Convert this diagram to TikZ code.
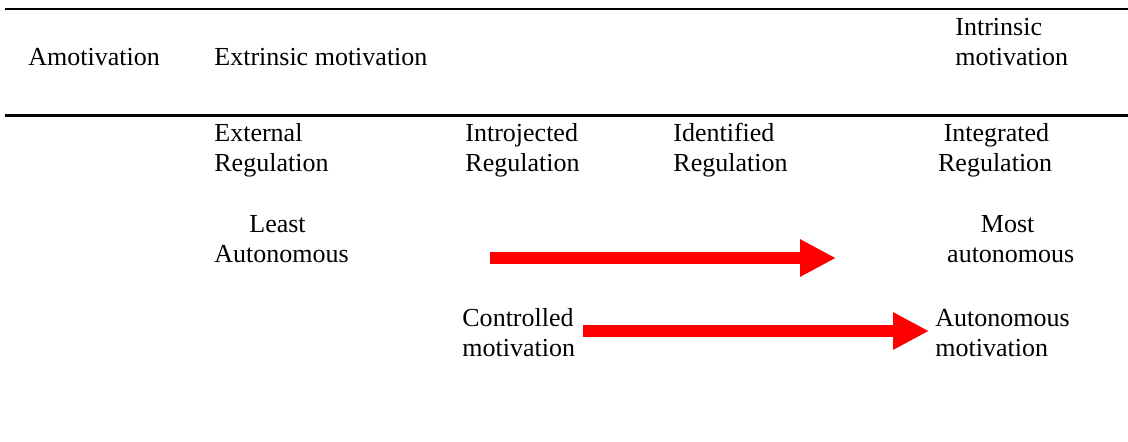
\documentclass[tikz,border=0pt]{standalone}
\usepackage{fontspec}
\setmainfont{Liberation Serif}
\usetikzlibrary{arrows.meta}
\begin{document}
\begin{tikzpicture}[x=0.5pt,y=-0.5pt,
  % base anchor of a two-line label sits on its last line
  lbl/.style={anchor=base west,align=left,inner sep=0pt,
    font=\fontsize{13pt}{15pt}\selectfont},
  rule/.style={line width=1.25pt},
  bigarrow/.style={draw=red,line width=6pt,line cap=butt,
    -{Triangle[length=18pt,width=17.5pt]}}]
\useasboundingbox (0,0) rectangle (1128,441);

% table rules
\coordinate (r1l) at (5,9);   \coordinate (r1r) at (1128,9);
\coordinate (r2l) at (5,115.5); \coordinate (r2r) at (1128,115.5);
\draw[rule] (r1l) -- (r1r);
\draw[rule] (r2l) -- (r2r);

% header row
\node[lbl] (amot) at (28,65.5) {Amotivation};
\node[lbl] (extr) at (214,65.5) {Extrinsic motivation};
\node[lbl] (intr) at (955,65) {Intrinsic\\motivation};

% regulation types
\node[lbl] (ext) at (214,171.5) {External\\Regulation};
\node[lbl] (intro) at (465,171.5) {Introjected\\Regulation};
\node[lbl] (ident) at (673,171.5) {Identified\\Regulation};
\node[lbl] (integ) at (937.7,171.5) {\hspace*{2.85pt}Integrated\\Regulation};

% autonomy scale
\node[lbl] (least) at (214,262) {\hspace*{17.5pt}Least\\Autonomous};
\node[lbl] (most) at (946.8,262) {\hspace*{16.85pt}Most\\autonomous};
\coordinate (a1s) at (490,258);
\coordinate (a1e) at (836,258);
\draw[bigarrow] (a1s) -- (a1e);

% controlled vs autonomous motivation
\node[lbl] (ctrl) at (462,356) {Controlled\\motivation};
\node[lbl] (auto) at (935,356) {Autonomous\\motivation};
\coordinate (a2s) at (583,331);
\coordinate (a2e) at (929,331);
\draw[bigarrow] (a2s) -- (a2e);
\end{tikzpicture}
\end{document}
